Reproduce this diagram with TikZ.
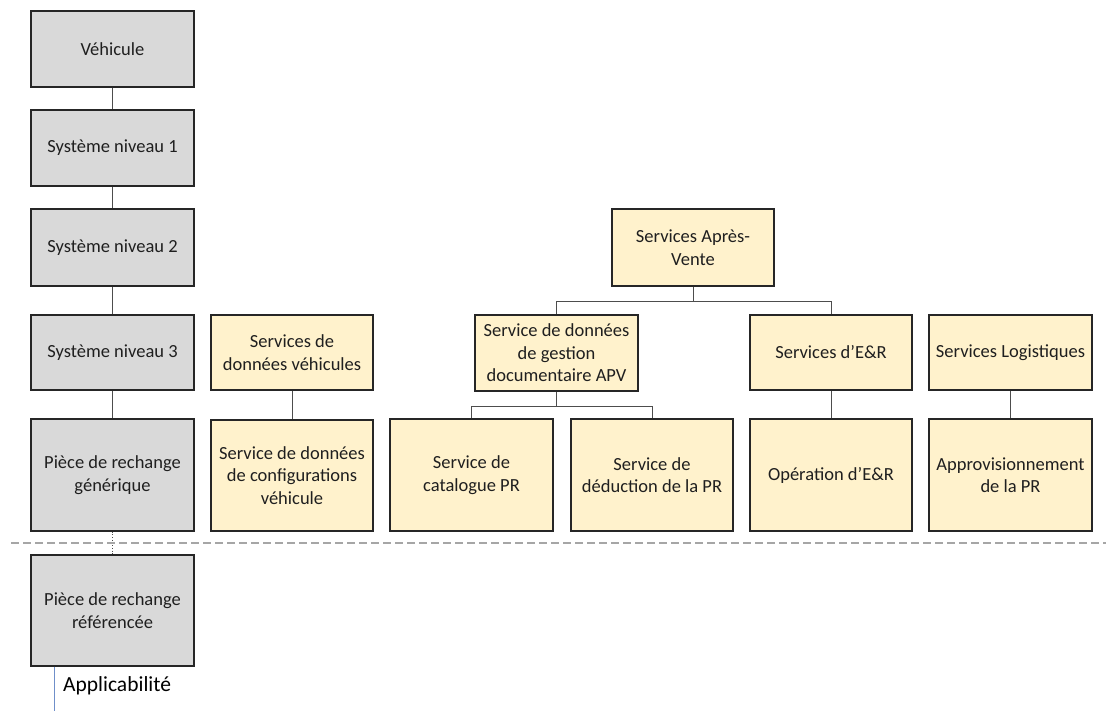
\documentclass[tikz,border=0pt]{standalone}
\usepackage{fontspec}
\setmainfont{Carlito}
\definecolor{boxgray}{HTML}{D9D9D9}
\definecolor{boxyellow}{HTML}{FFF2CC}
\definecolor{txt}{HTML}{1F1F1F}
\definecolor{conncol}{HTML}{4D4D4D}
\definecolor{dashcol}{HTML}{A6A6A6}
\definecolor{bluecol}{HTML}{6F8FC9}
\tikzset{
  boxbase/.style={draw=black!85, line width=1.4pt, rectangle, inner sep=2pt, align=center,
    text=txt, font=\fontsize{18.5}{22.5}\selectfont},
  graybox/.style={boxbase, fill=boxgray, minimum width=163pt},
  yelbox/.style={boxbase, fill=boxyellow},
  conn/.style={draw=conncol, line width=1pt},
}
\begin{document}
\begin{tikzpicture}[x=1pt,y=-1pt]
\useasboundingbox (0,0) rectangle (1107,711);
% gray column
\node[graybox, minimum height=76pt] (veh) at (112.5,49) {Véhicule};
\node[graybox, minimum height=76pt] (sys1) at (112.5,148) {Système niveau 1};
\node[graybox, minimum height=77pt] (sys2) at (112.5,247.5) {Système niveau 2};
\node[graybox, minimum height=75pt] (sys3) at (112.5,352.5) {Système niveau 3};
\node[graybox, minimum height=112pt] (gen) at (112.5,475) {Pièce de rechange\\générique};
\node[graybox, minimum height=111pt] (ref) at (112.5,610.5) {Pièce de rechange\\référencée};
% yellow boxes
\node[yelbox, minimum width=162pt, minimum height=75pt] (sdv) at (292,352.5) {Services de\\données véhicules};
\node[yelbox, minimum width=162pt, minimum height=111pt] (sdc) at (292,475.5) {Service de données\\de configurations\\véhicule};
\node[yelbox, minimum width=162pt, minimum height=77pt] (sav) at (693,247.5) {Services Après-\\Vente};
\node[yelbox, minimum width=163pt, minimum height=76pt] (apv) at (556.5,353) {Service de données\\de gestion\\documentaire APV};
\node[yelbox, minimum width=163pt, minimum height=112pt] (cat) at (471.5,475) {Service de\\catalogue PR};
\node[yelbox, minimum width=162pt, minimum height=112pt] (ded) at (652,475) {Service de\\déduction de la PR};
\node[yelbox, minimum width=162pt, minimum height=75pt] (ser) at (831,352.5) {Services d’E\&R};
\node[yelbox, minimum width=163pt, minimum height=75pt] (slog) at (1010.5,352.5) {Services Logistiques};
\node[yelbox, minimum width=162pt, minimum height=112pt] (oer) at (831,475) {Opération d’E\&R};
\node[yelbox, minimum width=163pt, minimum height=112pt] (appr) at (1010.5,475) {Approvisionnement\\de la PR};
% connectors
\draw[conn] (veh) -- (sys1);
\draw[conn] (sys1) -- (sys2);
\draw[conn] (sys2) -- (sys3);
\draw[conn] (sys3) -- (gen);
\draw[conn] (sdv) -- (sdc);
\draw[conn] (ser) -- (oer);
\draw[conn] (slog) -- (appr);
\coordinate (savj) at (693,301);
\draw[conn] (sav.south) -- (savj) -| (apv.north);
\draw[conn] (savj) -| (ser.north);
\coordinate (apvj) at (556.5,406);
\draw[conn] (apv.south) -- (apvj) -| (cat.north);
\draw[conn] (apvj) -| (ded.north);
\draw[draw=conncol, line width=0.7pt, dotted] (gen.south) -- (ref.north);
% separator
\draw[draw=dashcol, line width=2.8pt, dash pattern=on 8pt off 4pt] (11,543) -- (1106,543);
% applicability
\coordinate (appl) at (54,711);
\draw[draw=bluecol, line width=0.9pt] (ref.south -| appl) -- (appl);
\node[anchor=west, text=black, font=\fontsize{21.5}{24}\selectfont, inner sep=0pt] (applt) at (63,686) {Applicabilité};
\end{tikzpicture}
\end{document}
